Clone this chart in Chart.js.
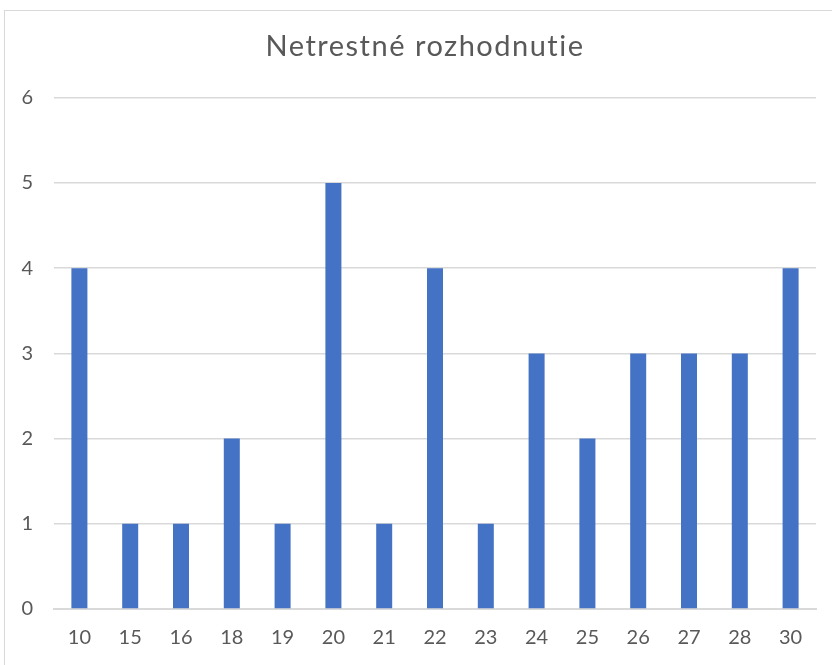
<!DOCTYPE html>
<html>
<head>
<meta charset="utf-8">
<script src="https://cdn.jsdelivr.net/npm/chart.js@4"></script>
<style>
  html, body { margin: 0; padding: 0; background: #fff; overflow: hidden; }
  #wrap { position: relative; width: 832px; height: 665px; overflow: hidden; }
  #frame { position: absolute; left: 4px; top: 10px; width: 850px; height: 700px; border: 1px solid #d9d9d9; box-sizing: border-box; }
  canvas { position: absolute; left: 0; top: 0; }
</style>
</head>
<body>
<div id="wrap">
  <div id="frame"></div>
  <canvas id="chart" width="832" height="667"></canvas>
</div>
<script>
const categories = ['10', '15', '16', '18', '19', '20', '21', '22', '23', '24', '25', '26', '27', '28', '30'];
const counts = [4, 1, 1, 2, 1, 5, 1, 4, 1, 3, 2, 3, 3, 3, 4];
const yTicks = [0, 1, 2, 3, 4, 5, 6];

const textColor = '#595959';
const gridColor = '#d9d9d9';
const fontFamily = 'Lato, "Open Sans", sans-serif';

// the title in the reference is set a bit wide and sits centred on the whole frame
// (which runs past the right edge), so space it out and nudge it right
const wideTitle = {
  id: 'wideTitle',
  afterInit(chart) {
    const block = chart.titleBlock;
    if (!block) return;
    const draw = block.draw.bind(block);
    block.draw = function () {
      const c = chart.ctx;
      c.save();
      c.letterSpacing = '1.5px';
      c.translate(17, 0);
      draw();
      c.restore();
    };
  }
};

const ctx = document.getElementById('chart').getContext('2d');

new Chart(ctx, {
  type: 'bar',
  data: {
    labels: categories,
    datasets: [{
      data: counts,
      backgroundColor: '#4472c4',
      borderWidth: 0,
      barPercentage: 0.63,
      categoryPercentage: 0.5
    }]
  },
  options: {
    responsive: false,
    animation: false,
    layout: { padding: { top: 10, right: 16, bottom: 0, left: 0 } },
    plugins: {
      legend: { display: false },
      tooltip: { enabled: false },
      title: {
        display: true,
        text: 'Netrestné rozhodnutie',
        color: textColor,
        font: { family: fontFamily, size: 29, weight: 'normal' },
        padding: { top: 19, bottom: 34 }
      }
    },
    scales: {
      x: {
        grid: { display: false, drawTicks: false },
        border: { display: true, color: gridColor, width: 2 },
        ticks: {
          color: textColor,
          font: { family: fontFamily, size: 20 },
          padding: 17,
          maxRotation: 0
        }
      },
      y: {
        min: yTicks[0],
        max: yTicks[yTicks.length - 1],
        afterFit: scale => { scale.width = 54; },
        afterBuildTicks: scale => { scale.ticks = yTicks.map(v => ({ value: v })); },
        grid: { color: gridColor, lineWidth: 1.5, drawTicks: false },
        border: { display: false },
        ticks: {
          color: textColor,
          font: { family: fontFamily, size: 20 },
          padding: 21
        }
      }
    }
  },
  plugins: [wideTitle]
});
</script>
</body>
</html>
